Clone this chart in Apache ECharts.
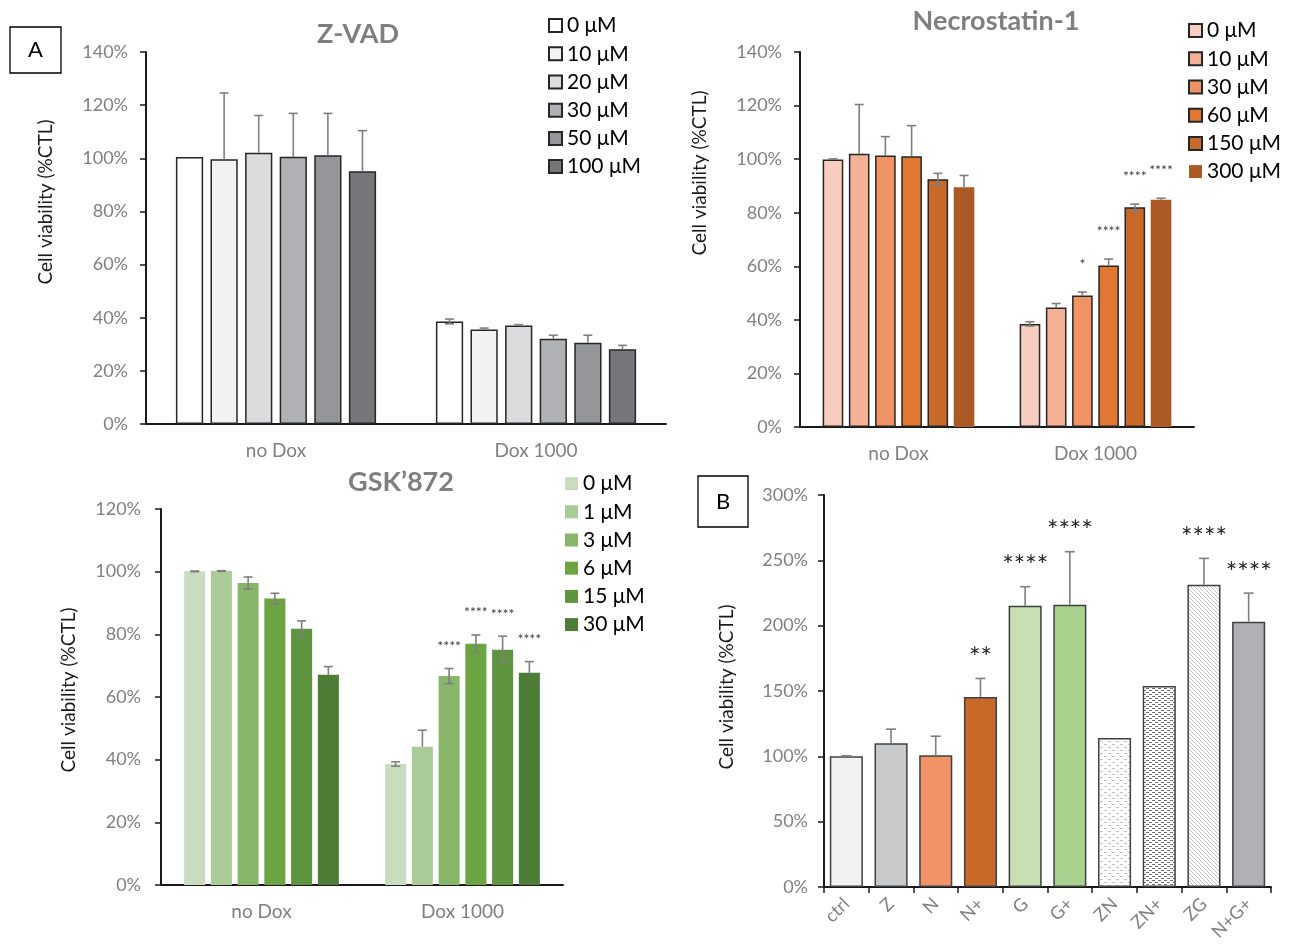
<!DOCTYPE html>
<html><head><meta charset="utf-8">
<script src="https://cdn.jsdelivr.net/npm/echarts@6/dist/echarts.min.js"></script>
<style>html,body{margin:0;padding:0;background:#fff}#c{width:1291px;height:945px}</style>
</head><body><div id="c"></div>
<script>
// ---------- DATA ----------
const groups = ['no Dox', 'Dox 1000'];

const zvadConc = ['0 μM', '10 μM', '20 μM', '30 μM', '50 μM', '100 μM'];
const zvadNoDox = [100.5, 99.6, 102.1, 100.6, 101.1, 95.1];
const zvadNoDoxUp = [0, 25.0, 14.0, 16.3, 15.8, 15.3];
const zvadNoDoxDown = [0, 0, 0, 0, 0, 0];
const zvadDox = [38.6, 35.6, 37.1, 32.1, 30.6, 28.1];
const zvadDoxUp = [0.9, 0.5, 0.3, 1.3, 2.8, 1.5];
const zvadDoxDown = [0.9, 0, 0, 0, 0, 0];
const zvadDoxStars = ['', '', '', '', '', ''];

const necroConc = ['0 μM', '10 μM', '30 μM', '60 μM', '150 μM', '300 μM'];
const necroNoDox = [99.9, 102.0, 101.4, 101.1, 92.5, 89.5];
const necroNoDoxUp = [0.2, 18.4, 7.0, 11.4, 2.2, 4.4];
const necroNoDoxDown = [0, 0, 0, 0, 2.2, 0];
const necroDox = [38.5, 44.6, 49.1, 60.3, 82.0, 84.8];
const necroDoxUp = [0.8, 1.5, 1.3, 2.4, 1.2, 0.6];
const necroDoxDown = [0.8, 0, 0, 0, 1.2, 0];
const necroDoxStars = ['', '', '*', '****', '****', '****'];

const gskConc = ['0 μM', '1 μM', '3 μM', '6 μM', '15 μM', '30 μM'];
const gskNoDox = [100.1, 100.2, 96.4, 91.4, 81.8, 67.1];
const gskNoDoxUp = [0.1, 0.1, 1.9, 1.7, 2.5, 2.6];
const gskNoDoxDown = [0.1, 0.1, 1.9, 1.7, 2.5, 0];
const gskDox = [38.6, 44.1, 66.7, 77.0, 75.1, 67.7];
const gskDoxUp = [0.7, 5.3, 2.4, 2.8, 4.3, 3.6];
const gskDoxDown = [0.7, 0, 2.4, 2.8, 4.3, 0];
const gskDoxStars = ['', '', '****', '****', '****', '****'];

const bCats = ['ctrl', 'Z', 'N', 'N+', 'G', 'G+', 'ZN', 'ZN+', 'ZG', 'N+G+'];
const bValues = [100, 110.0, 100.8, 145.5, 215.2, 216.0, 114.1, 153.9, 231.3, 203.0];
const bErrUp = [0.4, 10.8, 14.6, 14.1, 14.6, 40.6, 0, 0, 20.2, 21.9];
const bStars = ['', '', '', '**', '****', '****', '', '', '****', '****'];

// ---------- STYLES ----------
const FONT = 'Lato, "Open Sans", "Noto Sans", sans-serif';
const zvadColors = ['#ffffff', '#f2f2f3', '#dcdcde', '#b0b1b4', '#949599', '#77777b'];
const necroColors = ['#f8cdbf', '#f4b196', '#f09364', '#e07832', '#c8692a', '#ab5a26'];
const necroBorders = [1.5, 1.5, 1.5, 1.5, 1.5, 0];
const gskColors = ['#c9dcc0', '#aacb98', '#88b76b', '#6ca442', '#5f9440', '#4e7d37'];

function pattern(w, h, draw) {
  const c = document.createElement('canvas');
  c.width = w; c.height = h;
  const g = c.getContext('2d');
  g.fillStyle = '#ffffff'; g.fillRect(0, 0, w, h);
  draw(g);
  return { image: c, repeat: 'repeat' };
}
const patZN = pattern(8, 6, g => { g.fillStyle = '#c4c4c4'; g.fillRect(0, 0, 3, 1); g.fillRect(4, 3, 3, 1); });
const patZNp = pattern(6, 4, g => { g.fillStyle = '#6f6f6f'; g.fillRect(0, 0, 3, 1); g.fillRect(3, 2, 3, 1); });
const patZG = pattern(4, 4, g => {
  g.strokeStyle = '#c4c4c4'; g.lineWidth = 1;
  g.beginPath(); g.moveTo(-1, -1); g.lineTo(5, 5); g.moveTo(-1, 3); g.lineTo(1, 5); g.moveTo(3, -1); g.lineTo(5, 1); g.stroke();
});
const bColors = ['#f2f2f2', '#c9cacc', '#f09366', '#c9692a', '#c6e0b4', '#a9d18e', patZN, patZNp, patZG, '#b0b1b5'];

const CAT_GAP = 0.23, BAR_GAP = 0.27;

// ---------- BUILDERS ----------
function barSeries(prefix, conc, a, b, colors, borders, gi) {
  return conc.map((c, i) => ({
    type: 'bar', name: prefix + '|' + c, xAxisIndex: gi, yAxisIndex: gi,
    data: [a[i], b[i]],
    barGap: (BAR_GAP * 100) + '%', barCategoryGap: (CAT_GAP * 100) + '%',
    itemStyle: { color: colors[i], borderColor: '#262626', borderWidth: borders[i] },
    silent: true
  }));
}

function errSeries(rows, stars, gi, nBars, catGap, barGap, cap, starFont, starOff, starColor) {
  return {
    type: 'custom', xAxisIndex: gi, yAxisIndex: gi, z: 10, silent: true,
    encode: { x: 0, y: 1 },
    data: rows,
    renderItem: function (params, api) {
      const cat = api.value(0), v = api.value(1), up = api.value(2), dn = api.value(3), bi = api.value(4);
      const band = api.size([1, 0])[0];
      const total = band * (1 - catGap);
      const bw = total / (nBars + (nBars - 1) * barGap);
      const cx = api.coord([cat, 0])[0] - total / 2 + bw / 2 + bi * bw * (1 + barGap);
      const yTop = api.coord([cat, v + up])[1];
      const yBot = api.coord([cat, v - dn])[1];
      const st = { stroke: '#7f7f7f', lineWidth: 1.6 };
      const ch = [];
      if (up > 0 || dn > 0) {
        ch.push({ type: 'line', shape: { x1: cx, y1: yBot, x2: cx, y2: yTop }, style: st });
        if (up > 0) ch.push({ type: 'line', shape: { x1: cx - cap / 2, y1: yTop, x2: cx + cap / 2, y2: yTop }, style: st });
        if (dn > 0) ch.push({ type: 'line', shape: { x1: cx - cap / 2, y1: yBot, x2: cx + cap / 2, y2: yBot }, style: st });
      }
      const s = stars[params.dataIndex];
      if (s) {
        ch.push({ type: 'text', style: { text: s, x: cx, y: yTop - starOff, textAlign: 'center', textVerticalAlign: 'middle',
          fill: starColor, font: starFont } });
      }
      return { type: 'group', children: ch };
    }
  };
}

function buildRows(noDox, noUp, noDn, dox, dUp, dDn) {
  const rows = [];
  noDox.forEach((v, i) => rows.push([0, v, noUp[i], noDn[i], i]));
  dox.forEach((v, i) => rows.push([1, v, dUp[i], dDn[i], i]));
  return rows;
}
function buildStars(n, doxStars) { return new Array(n).fill('').concat(doxStars); }

function yAx(gi, max, interval, margin) {
  return {
    type: 'value', gridIndex: gi, min: 0, max: max, interval: interval,
    axisLine: { show: true, lineStyle: { color: '#1a1a1a', width: 2 } },
    axisTick: { show: true, length: 6, lineStyle: { color: '#1a1a1a', width: 1.5 } },
    axisLabel: { formatter: '{value}%', color: '#808080', fontSize: 18, fontFamily: FONT, margin: margin },
    splitLine: { show: false }
  };
}
function xAx(gi, data) {
  return {
    type: 'category', gridIndex: gi, data: data,
    axisLine: { show: true, lineStyle: { color: '#1a1a1a', width: 2 } },
    axisTick: { show: false },
    axisLabel: { color: '#808080', fontSize: 19, fontFamily: FONT, margin: 17 }
  };
}
function legend(prefix, conc, left, top) {
  return {
    data: conc.map(c => prefix + '|' + c), orient: 'vertical', left: left, top: top, padding: 0,
    icon: 'rect', itemWidth: 13, itemHeight: 13, itemGap: 7, selectedMode: false,
    formatter: n => n.split('|')[1],
    textStyle: { fontSize: 21, color: '#000', fontFamily: FONT, lineHeight: 21.2 }
  };
}

const xB = xAx(3, bCats);
xB.axisTick = { show: true, length: 6, lineStyle: { color: '#1a1a1a', width: 1.5 } };
xB.axisLabel = { color: '#808080', fontSize: 18, fontFamily: FONT, margin: 14, rotate: 45, interval: 0 };

const series = []
  .concat(barSeries('zvad', zvadConc, zvadNoDox, zvadDox, zvadColors, [1.5, 1.5, 1.5, 1.5, 1.5, 1.5], 0))
  .concat(barSeries('necro', necroConc, necroNoDox, necroDox, necroColors, necroBorders, 1))
  .concat(barSeries('gsk', gskConc, gskNoDox, gskDox, gskColors, [0, 0, 0, 0, 0, 0], 2));

series.push({
  type: 'bar', name: 'combo', xAxisIndex: 3, yAxisIndex: 3, barCategoryGap: '26%', silent: true,
  data: bValues.map((v, i) => ({ value: v, itemStyle: { color: bColors[i] } })),
  itemStyle: { borderColor: '#404040', borderWidth: 1.5 }
});

const SMALL_STAR = '14px ' + FONT;
series.push(errSeries(buildRows(zvadNoDox, zvadNoDoxUp, zvadNoDoxDown, zvadDox, zvadDoxUp, zvadDoxDown),
  buildStars(6, zvadDoxStars), 0, 6, CAT_GAP, BAR_GAP, 9, SMALL_STAR, 26, '#404040'));
series.push(errSeries(buildRows(necroNoDox, necroNoDoxUp, necroNoDoxDown, necroDox, necroDoxUp, necroDoxDown),
  buildStars(6, necroDoxStars), 1, 6, CAT_GAP, BAR_GAP, 9, SMALL_STAR, 28, '#404040'));
series.push(errSeries(buildRows(gskNoDox, gskNoDoxUp, gskNoDoxDown, gskDox, gskDoxUp, gskDoxDown),
  buildStars(6, gskDoxStars), 2, 6, CAT_GAP, BAR_GAP, 9, SMALL_STAR, 22, '#404040'));
series.push(errSeries(bValues.map((v, i) => [i, v, bErrUp[i], 0, 0]), bStars, 3, 1, 0.26, 0, 10,
  '27px ' + FONT, 20, '#262626'));

function vtext(t, x, y) {
  return { type: 'text', x: x, y: y, rotation: Math.PI / 2,
    style: { text: t, x: 0, y: 0, textAlign: 'center', textVerticalAlign: 'middle', fill: '#1a1a1a', font: '19px ' + FONT } };
}
function title(t, x, y) {
  return { type: 'text', x: x, y: y,
    style: { text: t, x: 0, y: 0, textAlign: 'center', textVerticalAlign: 'middle', fill: '#7f7f7f', font: 'bold 27px ' + FONT } };
}
function box(t, x, y, w, h) {
  return [
    { type: 'rect', shape: { x: x, y: y, width: w, height: h }, style: { fill: '#fff', stroke: '#000', lineWidth: 1.3 } },
    { type: 'text', x: x + w / 2, y: y + h / 2,
      style: { text: t, x: 0, y: 0, textAlign: 'center', textVerticalAlign: 'middle', fill: '#000', font: '22px ' + FONT } }
  ];
}

const option = {
  animation: false,
  backgroundColor: '#ffffff',
  textStyle: { fontFamily: FONT },
  grid: [
    { left: 146, top: 52, width: 520, height: 372 },
    { left: 800, top: 52, width: 394, height: 375 },
    { left: 161, top: 509, width: 402, height: 376 },
    { left: 824, top: 495, width: 447, height: 392 }
  ],
  xAxis: [xAx(0, groups), xAx(1, groups), xAx(2, groups), xB],
  yAxis: [yAx(0, 140, 20, 18), yAx(1, 140, 20, 18), yAx(2, 120, 20, 20), yAx(3, 300, 50, 16)],
  legend: [
    legend('zvad', zvadConc, 548, 15),
    legend('necro', necroConc, 1188, 20),
    legend('gsk', gskConc, 565, 473)
  ],
  series: series,
  graphic: [
    title('Z-VAD', 358, 34),
    title('Necrostatin-1', 996, 21),
    title('GSK’872', 401, 482),
    vtext('Cell viability (%CTL)', 46, 202),
    vtext('Cell viability (%CTL)', 700, 173),
    vtext('Cell viability (%CTL)', 69, 690),
    vtext('Cell viability (%CTL)', 727, 687)
  ].concat(box('A', 10, 27, 51, 46)).concat(box('B', 698, 476, 50, 51))
};

const chart = echarts.init(document.getElementById('c'), null, { renderer: 'canvas' });
chart.setOption(option);
</script>
</body></html>
